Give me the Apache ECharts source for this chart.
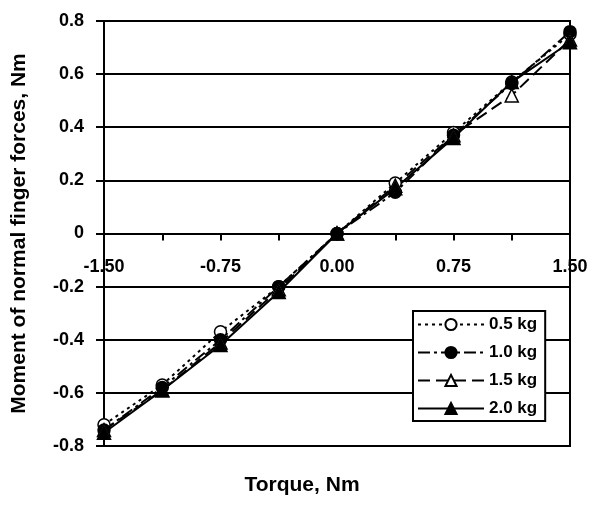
<!DOCTYPE html>
<html><head><meta charset="utf-8">
<script src="https://cdn.jsdelivr.net/npm/echarts@6/dist/echarts.min.js"></script>
<style>html,body{margin:0;padding:0;background:#fff}#c{width:604px;height:515px}</style>
</head><body><div id="c"></div>
<script>
const torque = [-1.5, -1.125, -0.75, -0.375, 0, 0.375, 0.75, 1.125, 1.5];
const kg05 = [-0.72, -0.57, -0.37, -0.20, 0, 0.19, 0.38, 0.57, 0.75];
const kg10 = [-0.74, -0.58, -0.40, -0.20, 0, 0.155, 0.37, 0.565, 0.76];
const kg15 = [-0.74, -0.59, -0.41, -0.21, 0, 0.18, 0.37, 0.52, 0.73];
const kg20 = [-0.75, -0.59, -0.42, -0.22, 0, 0.17, 0.36, 0.57, 0.72];
const seriesNames = ['0.5 kg', '1.0 kg', '1.5 kg', '2.0 kg'];
const xTicks = [-1.5, -0.75, 0, 0.75, 1.5];
const yTicks = [-0.8, -0.6, -0.4, -0.2, 0, 0.2, 0.4, 0.6, 0.8];

const pairs = arr => torque.map((t, i) => [t, arr[i]]);
const F = 'Arial, "Liberation Sans", sans-serif';
const chart = echarts.init(document.getElementById('c'));
const mk = (name, data, symbol, fill, dash) => ({
  name, type: 'line', data: pairs(data), symbol, symbolSize: symbol === 'triangle' ? 13 : 12,
  itemStyle: { color: fill, borderColor: '#000', borderWidth: 1.5 },
  lineStyle: { color: '#000', width: 2, type: dash },
  emphasis: { disabled: true }, z: 3
});
const GRID_TOP = 21, GRID_BOTTOM = 69, H = 515;
const zeroOffset = (H - GRID_TOP - GRID_BOTTOM) / 2;
chart.setOption({
  animation: false,
  grid: { left: 104, right: 34, top: GRID_TOP, bottom: GRID_BOTTOM, show: true, borderColor: '#000', borderWidth: 2 },
  legend: {
    orient: 'vertical', left: 413, top: 311, itemWidth: 66, itemHeight: 14, itemGap: 11,
    padding: [5, 8, 4, 4], backgroundColor: '#fff', borderColor: '#000', borderWidth: 2,
    textStyle: { fontFamily: F, fontWeight: 'bold', fontSize: 17, color: '#000' },
    data: seriesNames
  },
  xAxis: {
    type: 'value', min: -1.5, max: 1.5, interval: 0.375, position: 'bottom', offset: -zeroOffset,
    axisLine: { onZero: false, lineStyle: { color: '#000', width: 2 } },
    axisTick: { show: true, length: 7, lineStyle: { color: '#000', width: 2 } },
    axisLabel: { interval: 1, margin: 25, fontFamily: F, fontWeight: 'bold', fontSize: 18, color: '#000',
      hideOverlap: false,
      formatter: v => xTicks.some(t => Math.abs(t - v) < 1e-9) ? v.toFixed(2) : '' },
    splitLine: { show: false }
  },
  yAxis: {
    type: 'value', min: -0.8, max: 0.8, interval: 0.2,
    name: 'Moment of normal finger forces, Nm', nameLocation: 'middle', nameGap: 74,
    nameTextStyle: { fontFamily: F, fontWeight: 'bold', fontSize: 21, color: '#000' },
    axisLine: { show: true, onZero: false, lineStyle: { color: '#000', width: 2 } },
    axisTick: { show: true, length: 8, lineStyle: { color: '#000', width: 2 } },
    axisLabel: { margin: 20, fontFamily: F, fontWeight: 'bold', fontSize: 18, color: '#000',
      formatter: v => { const t = yTicks.find(y => Math.abs(y - v) < 1e-9); return t === 0 ? '0' : t.toFixed(1); } },
    splitLine: { show: true, lineStyle: { color: '#000', width: 2 } }
  },
  graphic: [{ type: 'text', left: 'center', top: 475, style: { text: 'Torque, Nm', x: 0, fontFamily: F, fontWeight: 'bold', fontSize: 21, fill: '#000' } }],
  series: [
    mk(seriesNames[0], kg05, 'circle', '#fff', [3, 4]),
    mk(seriesNames[1], kg10, 'circle', '#000', [12, 4, 3, 4]),
    mk(seriesNames[2], kg15, 'triangle', '#fff', [12, 6]),
    mk(seriesNames[3], kg20, 'triangle', '#000', 'solid')
  ]
});
</script></body></html>
